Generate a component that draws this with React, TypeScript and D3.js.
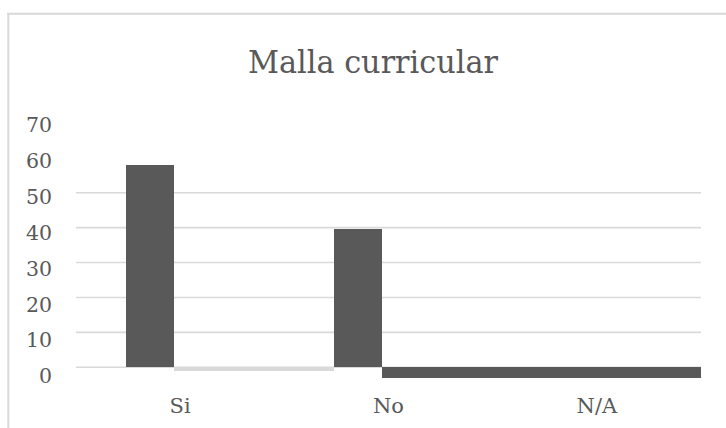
import React from "react";
import * as d3 from "d3";

const categories = ["Si", "No", "N/A"];
const primaryValues = [58, 39.5, -3];
const secondaryValues = [-1, -3, -3];
const secondaryColors = ["#d9d9d9", "#595959", "#595959"];
const gridTicks = [0, 10, 20, 30, 40, 50];
const labelTicks = [0, 10, 20, 30, 40, 50, 60, 70];
const title = "Malla curricular";

const W = 726;
const H = 428;
const plotLeft = 76;
const plotRight = 701;
const font = "DejaVu Serif, serif";

export default function App() {
  const x = d3.scaleBand<string>().domain(categories).range([plotLeft, plotRight]).padding(0);
  const bw = x.bandwidth();
  const y = d3.scaleLinear().domain([0, 50]).range([367.3, 192.7]);
  const yLab = d3.scaleLinear().domain([0, 70]).range([376, 124.5]);
  const off = bw * 0.24;
  const barW = bw * 0.23;
  const dark = "#595959";

  return (
    <svg width={W} height={H} style={{ position: "absolute", left: 0, top: 0, background: "#fff" }}>
      <rect x={0} y={0} width={W} height={H} fill="#fff" />
      <line x1={8.3} x2={8.3} y1={13} y2={H} stroke="#d9d9d9" strokeWidth={2} />
      <line x1={7.3} x2={W} y1={13.8} y2={13.8} stroke="#d9d9d9" strokeWidth={2} />
      <text
        x={373}
        y={73}
        textAnchor="middle"
        fontFamily={font}
        fontSize={32}
        fill="#595959"
        textLength={250}
        lengthAdjust="spacingAndGlyphs"
      >
        {title}
      </text>
      {gridTicks.map((t) => (
        <line key={t} x1={plotLeft} x2={plotRight} y1={y(t)} y2={y(t)} stroke="#d9d9d9" strokeWidth={1.6} />
      ))}
      {labelTicks.map((t) => (
        <text
          key={t}
          x={52}
          y={yLab(t)}
          dy="0.36em"
          textAnchor="end"
          fontFamily={font}
          fontSize={20.5}
          fill="#595959"
        >
          {t}
        </text>
      ))}
      <g shapeRendering="crispEdges">
        {categories.map((c, i) => {
          const x0 = (x(c) as number) + off;
          const x1 = x0 + barW;
          const next = i < categories.length - 1 ? (x(categories[i + 1]) as number) + off : plotRight;
          const pv = primaryValues[i];
          const sv = secondaryValues[i];
          return (
            <g key={c}>
              <rect x={x0} y={Math.min(y(pv), y(0))} width={barW} height={Math.abs(y(pv) - y(0))} fill={dark} />
              <rect x={x1} y={Math.min(y(sv), y(0))} width={next - x1} height={Math.abs(y(sv) - y(0))} fill={secondaryColors[i]} />
            </g>
          );
        })}
      </g>
      {categories.map((c) => (
        <text
          key={c}
          x={(x(c) as number) + bw / 2}
          y={413}
          textAnchor="middle"
          fontFamily={font}
          fontSize={21}
          fill="#595959"
        >
          {c}
        </text>
      ))}
    </svg>
  );
}
